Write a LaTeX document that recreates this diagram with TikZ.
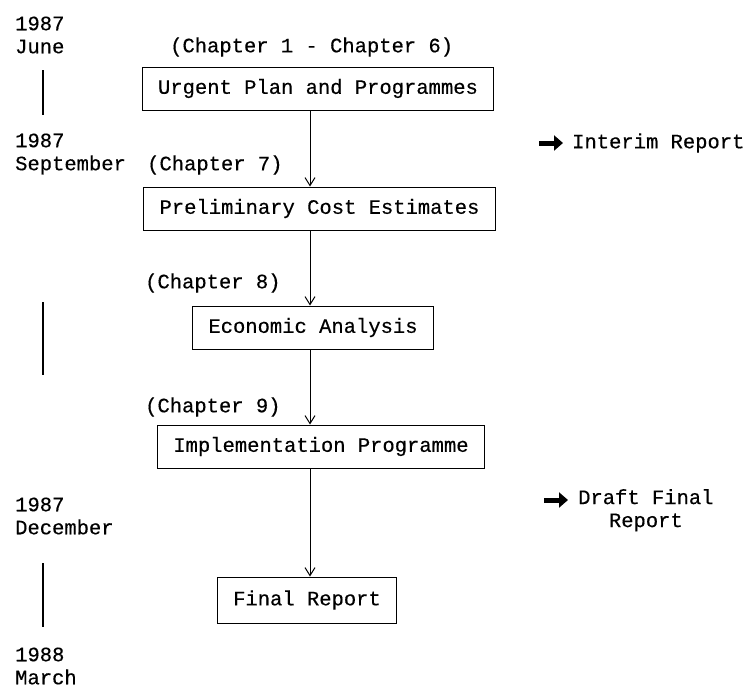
\documentclass[tikz,border=0pt]{standalone}
\usepackage{fontspec}
\setmainfont{Liberation Mono}[FakeBold=0.4]
\usetikzlibrary{arrows.meta}
\begin{document}
\begin{tikzpicture}[x=1pt,y=-1pt,
    every node/.style={font=\fontsize{20.5}{23}\selectfont},
    stage/.style={draw,line width=1pt,inner xsep=16pt,minimum height=43pt},
    lbl/.style={anchor=west,inner sep=0pt},
    date/.style={anchor=west,align=left,inner sep=0pt},
    flow/.style={line width=1pt,-{Straight Barb[length=8pt,width=10pt,line width=1pt]}},
    fat/.style={line width=5pt,-{Triangle[length=9pt,width=15pt]}},
    span/.style={line width=1.2pt}]
  \useasboundingbox (0,0) rectangle (751,688);
  % dates on the left
  \node[date] (jun87) at (15,35) {1987\\June};
  \node[date] (sep87) at (15,154) {1987\\September};
  \node[date] (dec87) at (15,516) {1987\\December};
  \node[date] (mar88) at (15,666) {1988\\March};
  \draw[span] (43,70) -- (43,115);
  \draw[span] (43,302) -- (43,375);
  \draw[span] (43,563) -- (43,627);
  % chapters
  \node[lbl] (ch1) at (170,47) {(Chapter 1 - Chapter 6)};
  \node[lbl] (ch7) at (147,165) {(Chapter 7)};
  \node[lbl] (ch8) at (145,283) {(Chapter 8)};
  \node[lbl] (ch9) at (145,407) {(Chapter 9)};
  % stages
  \node[stage] (urgent) at (318,88.5) {Urgent Plan and Programmes};
  \node[stage] (prelim) at (319.5,208.5) {Preliminary Cost Estimates};
  \node[stage] (econ) at (313,327.5) {Economic Analysis};
  \node[stage] (impl) at (321,446.5) {Implementation Programme};
  \node[stage,minimum height=46pt] (final) at (307,600) {Final Report};
  \coordinate (spine) at (310,0);
  \draw[flow] (urgent.south -| spine) -- (prelim.north -| spine);
  \draw[flow] (prelim.south -| spine) -- (econ.north -| spine);
  \draw[flow] (econ.south -| spine) -- (impl.north -| spine);
  \draw[flow] (impl.south -| spine) -- (final.north -| spine);
  % reports
  \node[lbl] (interim) at (572,143) {Interim Report};
  \coordinate (ia) at (539,143);
  \draw[fat] (ia) -- ([xshift=-9pt]interim.west);
  \node[lbl,align=center,anchor=north west] (draft) at (578,489) {Draft Final\\Report};
  \coordinate (da) at (544,500);
  \draw[fat] (da) -- ([xshift=-10pt]da -| draft.west);
\end{tikzpicture}
\end{document}
